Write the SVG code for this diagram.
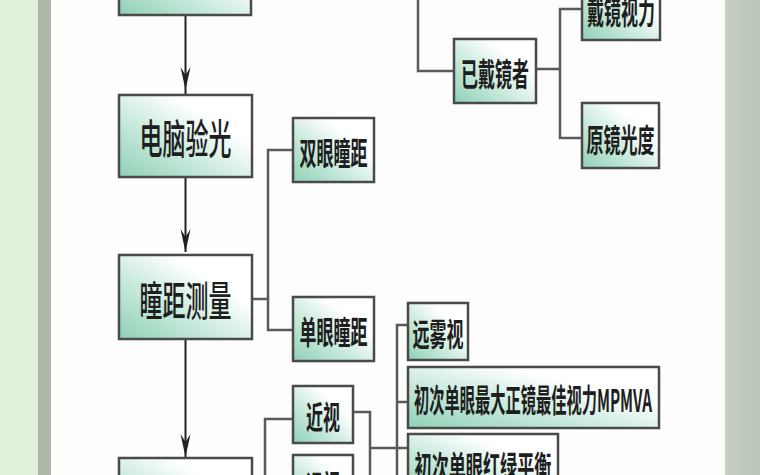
<svg xmlns="http://www.w3.org/2000/svg" width="760" height="475" viewBox="0 0 760 475">
<defs>
<linearGradient id="boxfill" x1="0" y1="1" x2="1" y2="0">
<stop offset="0" stop-color="#8fd0b6"/>
<stop offset="0.35" stop-color="#c4e8d9"/>
<stop offset="0.7" stop-color="#ffffff"/>
<stop offset="1" stop-color="#ffffff"/>
</linearGradient>
<linearGradient id="rightbg" x1="0" y1="0" x2="1" y2="0">
<stop offset="0" stop-color="#c6cfc1"/>
<stop offset="1" stop-color="#bcc6b8"/>
</linearGradient>
<marker id="arrow" viewBox="-24 -6 25 12" markerWidth="25" markerHeight="12" refX="0" refY="0" orient="auto" markerUnits="userSpaceOnUse">
<path d="M0,0 L-23,-5 L-15,0 L-23,5 Z" fill="#222"/>
</marker>
<style>
.box{fill:url(#boxfill);stroke:#4a4a4a;stroke-width:2.5}
.big{font-family:"Noto Sans CJK SC","Noto Sans",sans-serif;font-size:23px;font-weight:500;fill:#1e1e1e;text-anchor:middle;dominant-baseline:central}
.small{font-family:"Noto Sans CJK SC","Noto Sans",sans-serif;font-size:17px;font-weight:bold;fill:#1e1e1e;text-anchor:middle;dominant-baseline:central}
.conn{fill:none;stroke:#5a5a5a;stroke-width:2.5}
.flow{fill:none;stroke:#222;stroke-width:2}
</style>
</defs>
<rect x="0" y="0" width="760" height="475" fill="#fdfdfb"/>
<rect x="0" y="0" width="38" height="475" fill="#e0f2da"/>
<rect x="38" y="0" width="13" height="475" fill="#adb8a9"/>
<rect x="725" y="0" width="35" height="475" fill="url(#rightbg)"/>

<g id="connectors">
<line class="flow" x1="185.5" y1="15" x2="185.5" y2="90" marker-end="url(#arrow)"/>
<line class="flow" x1="185.5" y1="90" x2="185.5" y2="95"/>
<line class="flow" x1="185.5" y1="177" x2="185.5" y2="252" marker-end="url(#arrow)"/>
<line class="flow" x1="185.5" y1="339" x2="185.5" y2="457" marker-end="url(#arrow)"/>
<polyline class="conn" points="252,299 268,299"/>
<polyline class="conn" points="293,150 268,150 268,330 293,330"/>
<polyline class="conn" points="418,-10 418,71 454,71"/>
<polyline class="conn" points="536,69 560,69"/>
<polyline class="conn" points="582,9 560,9 560,138 582,138"/>
<polyline class="conn" points="252,500 265,500"/>
<polyline class="conn" points="293,419 265,419 265,520"/>
<polyline class="conn" points="265,483 293,483"/>
<polyline class="conn" points="353,412 370,412 370,480 353,480"/>
<polyline class="conn" points="370,448 408,448"/>
<polyline class="conn" points="408,325 397,325 397,520"/>
<polyline class="conn" points="397,402 408,402"/>
</g>

<g id="node-top"><rect class="box" x="119" y="-67" width="132" height="82"/></g>
<g id="node-diannao"><rect class="box" x="119" y="95" width="133" height="82"/><text class="big" transform="translate(185.5,136) scale(1,1.8)">电脑验光</text></g>
<g id="node-tongju"><rect class="box" x="119" y="255" width="133" height="84"/><text class="big" transform="translate(185.5,298) scale(1,1.8)">瞳距测量</text></g>
<g id="node-bottom"><rect class="box" x="119" y="458" width="133" height="82"/></g>

<g id="node-shuangyan"><rect class="box" x="293" y="118" width="81" height="64"/><text class="small" transform="translate(333.5,151) scale(1,1.85)">双眼瞳距</text></g>
<g id="node-danyan"><rect class="box" x="293" y="297" width="81" height="64"/><text class="small" transform="translate(333.5,330) scale(1,1.85)">单眼瞳距</text></g>

<g id="node-yidai"><rect class="box" x="454" y="39" width="82" height="64"/><text class="small" transform="translate(495,72) scale(1,1.85)">已戴镜者</text></g>
<g id="node-daijing"><rect class="box" x="582" y="-24" width="78" height="64"/><text class="small" transform="translate(621,10) scale(1,1.85)">戴镜视力</text></g>
<g id="node-yuanjing"><rect class="box" x="582" y="103" width="77" height="65"/><text class="small" transform="translate(620.5,138) scale(1,1.85)">原镜光度</text></g>

<g id="node-jinshi"><rect class="box" x="293" y="386" width="60" height="57"/><text class="small" transform="translate(323,415) scale(1,1.85)">近视</text></g>
<g id="node-yuanshi"><rect class="box" x="293" y="455" width="60" height="57"/><text class="small" transform="translate(323,484) scale(1,1.85)">远视</text></g>

<g id="node-yuanwushi"><rect class="box" x="408" y="303" width="60" height="57"/><text class="small" transform="translate(438,332) scale(1,1.85)">远雾视</text></g>
<g id="node-mpmva"><rect class="box" x="408" y="367" width="251" height="61"/><text class="small" textLength="238" lengthAdjust="spacingAndGlyphs" transform="translate(533,398) scale(1,1.85)">初次单眼最大正镜最佳视力MPMVA</text></g>
<g id="node-honglv"><rect class="box" x="408" y="434" width="150" height="61"/><text class="small" textLength="137" lengthAdjust="spacingAndGlyphs" transform="translate(483,465) scale(1,1.85)">初次单眼红绿平衡</text></g>
</svg>
